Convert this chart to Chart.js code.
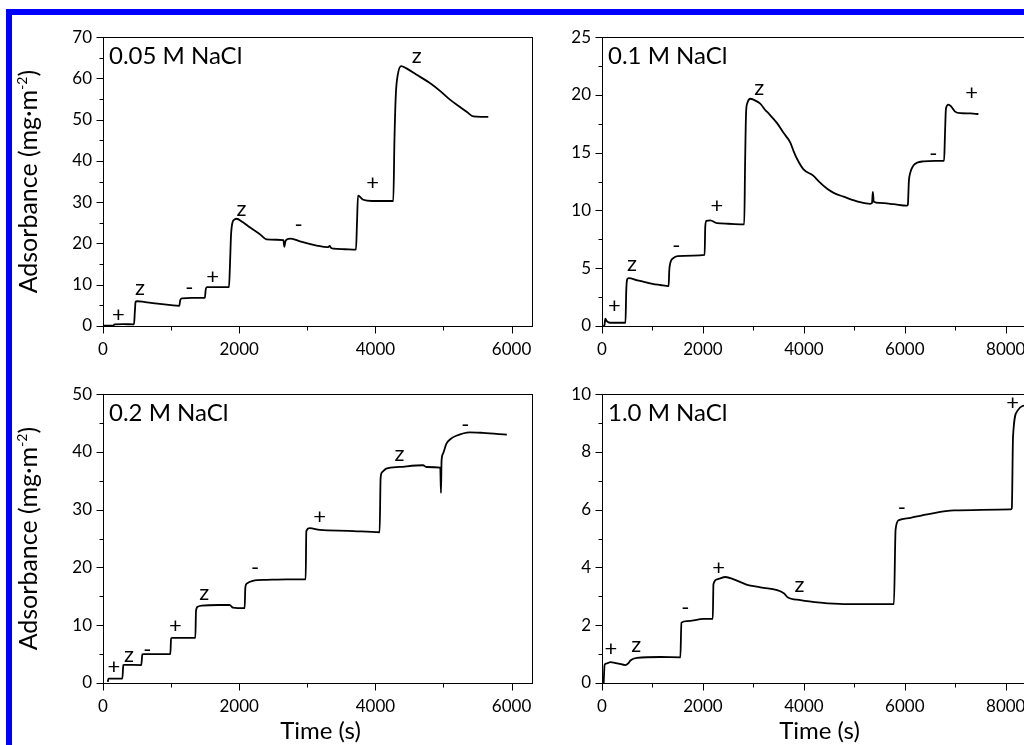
<!DOCTYPE html>
<html><head><meta charset="utf-8">
<script src="https://cdn.jsdelivr.net/npm/chart.js@4.4.1/dist/chart.umd.min.js"></script>
<style>
html,body{margin:0;padding:0;background:#fff;overflow:hidden;width:1024px;height:745px;}
#wrap{position:relative;width:1024px;height:745px;overflow:hidden;}
canvas{position:absolute;}
.bl{position:absolute;background:#0000ff;}
</style></head><body>
<div id="wrap">
<div class="bl" style="left:6px;top:9px;width:6px;height:736px"></div>
<div class="bl" style="left:6px;top:9px;width:1018px;height:6px"></div>
<canvas id="c1" width="540" height="344" style="left:12px;top:16px"></canvas>
<canvas id="c2" width="491" height="344" style="left:560px;top:16px"></canvas>
<canvas id="c3" width="540" height="372" style="left:12px;top:373px"></canvas>
<canvas id="c4" width="491" height="372" style="left:560px;top:373px"></canvas>
</div>
<script>
// ---------- DATA ----------
const titles = ['0.05 M NaCl', '0.1 M NaCl', '0.2 M NaCl', '1.0 M NaCl'];
const yAxisTitle = 'Adsorbance (mg\u00B7m';
const yAxisSup = '-2';
const xAxisTitle = 'Time (s)';

// 0.05 M NaCl
const t005 = [0,150,170,300,455,468,478,500,600,800,1000,1120,1135,1160,1300,1495,1510,1530,1700,1850,1865,1880,1900,1930,1960,2050,2150,2300,2400,2550,2650,2662,2680,2720,2760,2893,3138,3300,3330,3345,3383,3550,3715,3730,3745,3823,3950,4263,4280,4300,4330,4380,4450,4606,4800,4949,5100,5243,5350,5438,5550,5658];
const a005 = [0.1,0.1,0.4,0.45,0.4,3.5,5.8,6.0,5.85,5.4,5.05,4.9,6.3,6.7,6.8,6.8,9.0,9.4,9.4,9.4,15,22,25.0,25.8,26.0,25.2,24.0,22.3,21.0,20.9,20.8,19.2,20.6,21.1,21.2,20.5,19.5,19.1,19.4,19.0,18.75,18.6,18.5,25,31.6,30.6,30.3,30.3,45,56,61,63.0,62.5,60.9,58.9,57.0,54.8,53.1,51.8,50.8,50.7,50.7];
// 0.1 M NaCl
const t01 = [30,50,66,90,165,300,465,480,500,530,700,825,1000,1155,1320,1333,1350,1419,1500,1800,2033,2046,2070,2145,2277,2500,2818,2835,2855,2880,2937,3000,3135,3234,3300,3465,3600,3729,3800,3861,3993,4191,4300,4455,4600,4785,5115,5313,5350,5366,5385,5500,5775,6039,6060,6080,6110,6171,6250,6369,6600,6778,6795,6815,6864,6920,6996,7100,7300,7458];
const a01 = [0.0,0.1,0.64,0.45,0.28,0.28,0.28,3.0,4.05,4.15,3.95,3.83,3.65,3.55,3.45,4.8,5.4,5.9,6.05,6.1,6.15,8.6,9.1,9.15,8.9,8.85,8.8,14,18.5,19.3,19.67,19.6,19.25,18.7,18.4,17.58,16.7,15.9,15.1,14.5,13.56,13.0,12.5,11.9,11.5,11.2,10.72,10.58,10.65,11.6,10.75,10.65,10.55,10.42,10.5,12.5,13.3,13.9,14.15,14.25,14.3,14.3,16.5,18.83,19.17,19.0,18.56,18.42,18.4,18.35];
// 0.2 M NaCl
const t02 = [70,80,285,298,320,563,577,600,989,1000,1020,1356,1366,1390,1450,1700,1860,1909,2080,2090,2110,2200,2400,2700,2976,2986,3036,3183,3600,4062,4077,4100,4160,4356,4700,4748,4953,4963,4972,4993,5042,5100,5188,5384,5580,5931];
const a02 = [0.2,0.77,0.77,3.1,3.15,3.1,4.95,5.0,5.0,7.73,7.8,7.8,12.5,13.2,13.4,13.5,13.5,13.05,12.95,16.5,17.2,17.7,17.85,17.95,17.95,26.3,26.8,26.5,26.35,26.1,35.5,36.5,37.1,37.4,37.7,37.4,37.3,32.9,38.5,39.7,41.4,42.2,42.8,43.4,43.3,43.0];
// 1.0 M NaCl
const t10 = [33,53,100,165,250,330,463,520,562,694,1157,1553,1573,1686,2016,2195,2208,2281,2446,2611,2875,3140,3603,3669,3933,4330,4792,5784,5817,5883,6115,6445,6974,8098,8120,8144,8230,8329,8450];
const a10 = [0.0,0.64,0.68,0.72,0.7,0.67,0.62,0.68,0.78,0.87,0.9,0.89,2.09,2.14,2.22,2.22,3.42,3.59,3.67,3.59,3.4,3.31,3.11,2.98,2.87,2.78,2.73,2.73,5.31,5.64,5.72,5.84,5.98,6.01,6.05,8.53,9.42,9.59,9.62];

// step labels (+ / z / -)
const n005Time = [225,543,1268,1610,2032,2873,3960,4606];
const n005Ads = [2.7,8.8,9.2,12.1,28.1,24.5,34.7,65.0];
const n005Txt = ['+','z','-','+','z','-','+','z'];
const n01Time = [244,594,1472,2277,3115,6567,7326];
const n01Ads = [1.75,5.2,6.9,10.4,20.5,14.9,20.2];
const n01Txt = ['+','z','-','+','z','-','+'];
const n02Time = [161,380,651,1063,1488,2234,3180,4355,5320];
const n02Ads = [2.9,4.6,5.7,10.0,15.4,19.9,28.8,39.45,44.6];
const n02Txt = ['+','z','-','+','z','-','+','z','-'];
const n10Time = [178,680,1650,2310,3914,5940,8138];
const n10Ads = [1.2,1.26,2.61,4.0,3.33,6.06,9.72];
const n10Txt = ['+','z','-','+','z','-','+'];

// axis ranges / ticks
const xMaxShort = 6300, xMaxLong = 8500;
const xMinorStep = 1000, xMajorStep = 2000;
const yMaxes = [70, 25, 50, 10];
const yMinorSteps = [5, 2.5, 5, 1];
const yMajorSteps = [10, 5, 10, 2];

// ---------- DRAWING ----------
const FONT = 'Lato, "Open Sans", sans-serif';
function isMajor(v, m) { const r = v / m; return Math.abs(r - Math.round(r)) < 1e-6; }
function stepTicks(step) {
  return s => {
    const out = [];
    const n = Math.floor((s.max - s.min) / step + 1e-9);
    for (let i = 0; i <= n; i++) out.push({ value: s.min + i * step });
    s.ticks = out;
  };
}

const deco = {
  id: 'deco',
  afterDraw(chart) {
    const p = chart.options.plugins.deco;
    const {ctx, chartArea: a} = chart;
    const x = chart.scales.x, y = chart.scales.y;
    ctx.save();
    // frame
    ctx.strokeStyle = '#000'; ctx.lineWidth = 1;
    const L = Math.round(a.left) + 0.5, T = Math.round(a.top) + 0.5;
    const R = Math.round(a.right) + 0.5, B = Math.round(a.bottom) + 0.5;
    ctx.strokeRect(L, T, R - L, B - T);
    // tick marks (outward)
    ctx.beginPath();
    x.ticks.forEach(t => {
      const px = Math.round(x.getPixelForValue(t.value)) + 0.5;
      const len = isMajor(t.value, p.xMajor) ? 7 : 4;
      ctx.moveTo(px, B); ctx.lineTo(px, B + len);
    });
    y.ticks.forEach(t => {
      const py = Math.round(y.getPixelForValue(t.value)) + 0.5;
      const len = isMajor(t.value, p.yMajor) ? 7 : 4;
      ctx.moveTo(L, py); ctx.lineTo(L - len, py);
    });
    ctx.stroke();
    // panel title
    ctx.fillStyle = '#000';
    ctx.font = '24px ' + FONT;
    ctx.textAlign = 'left'; ctx.textBaseline = 'alphabetic';
    ctx.fillText(p.title, a.left + 6, a.top + 26.5);
    // step labels
    ctx.font = '22px ' + FONT;
    ctx.textAlign = 'center';
    p.nTime.forEach((tv, i) => {
      const txt = p.nTxt[i];
      const m = ctx.measureText(txt);
      const cx = x.getPixelForValue(tv), cy = y.getPixelForValue(p.nAds[i]);
      ctx.fillText(txt, cx, cy + (m.actualBoundingBoxAscent - m.actualBoundingBoxDescent) / 2);
    });
    // y axis title
    if (p.yTitle) {
      const big = '25px ' + FONT, small = '14px ' + FONT;
      ctx.font = big; const w1 = ctx.measureText(yAxisTitle).width; const w3 = ctx.measureText(')').width;
      ctx.font = small; const w2 = ctx.measureText(yAxisSup).width;
      const total = w1 + w2 + w3;
      const cy = (a.top + a.bottom) / 2;
      ctx.translate(25, cy);
      ctx.rotate(-Math.PI / 2);
      ctx.textAlign = 'left';
      let sx = -total / 2;
      ctx.font = big; ctx.fillText(yAxisTitle, sx, 0); sx += w1;
      ctx.font = small; ctx.fillText(yAxisSup, sx, -10); sx += w2;
      ctx.font = big; ctx.fillText(')', sx, 0);
      ctx.setTransform(1, 0, 0, 1, 0, 0);
    }
    if (p.xTitle) {
      ctx.font = '24px ' + FONT; ctx.textAlign = 'center'; ctx.textBaseline = 'alphabetic';
      ctx.fillText(xAxisTitle, (a.left + a.right) / 2 + 3, a.bottom + 56);
    }
    ctx.restore();
  }
};

function panel(id, idx, xs, ys, xMax, notes, yW, xH, yTitle, xTitle) {
  const pts = xs.map((v, i) => ({x: v, y: ys[i]}));
  new Chart(document.getElementById(id), {
    type: 'line',
    data: { datasets: [{ data: pts, borderColor: '#000', borderWidth: 1.8, pointRadius: 0, fill: false, cubicInterpolationMode: 'monotone' }] },
    options: {
      responsive: false, animation: false, events: [],
      layout: { padding: { top: 10, right: 20, left: 0, bottom: 0 } },
      plugins: {
        legend: { display: false }, tooltip: { enabled: false },
        deco: { title: titles[idx], xMajor: xMajorStep, yMajor: yMajorSteps[idx],
                nTime: notes[0], nAds: notes[1], nTxt: notes[2], yTitle, xTitle }
      },
      scales: {
        x: {
          type: 'linear', min: 0, max: xMax,
          afterBuildTicks: stepTicks(xMinorStep),
          afterFit: s => { s.height = xH; },
          grid: { display: false, drawTicks: false }, border: { display: false },
          ticks: { autoSkip: false, maxRotation: 0, padding: 13,
                   color: '#000', font: { family: FONT, size: 17 },
                   callback: v => isMajor(v, xMajorStep) ? String(v) : '' }
        },
        y: {
          type: 'linear', min: 0, max: yMaxes[idx],
          afterBuildTicks: stepTicks(yMinorSteps[idx]),
          afterFit: s => { s.width = yW; },
          grid: { display: false, drawTicks: false }, border: { display: false },
          ticks: { autoSkip: false, padding: 11,
                   color: '#000', font: { family: FONT, size: 17 },
                   callback: v => isMajor(v, yMajorSteps[idx]) ? String(v) : '' }
        }
      }
    },
    plugins: [deco]
  });
}

panel('c1', 0, t005, a005, xMaxShort, [n005Time, n005Ads, n005Txt], 91, 34, true, false);
panel('c2', 1, t01, a01, xMaxLong, [n01Time, n01Ads, n01Txt], 42, 34, false, false);
panel('c3', 2, t02, a02, xMaxShort, [n02Time, n02Ads, n02Txt], 91, 62, true, true);
panel('c4', 3, t10, a10, xMaxLong, [n10Time, n10Ads, n10Txt], 42, 62, false, true);
</script>
</body></html>
